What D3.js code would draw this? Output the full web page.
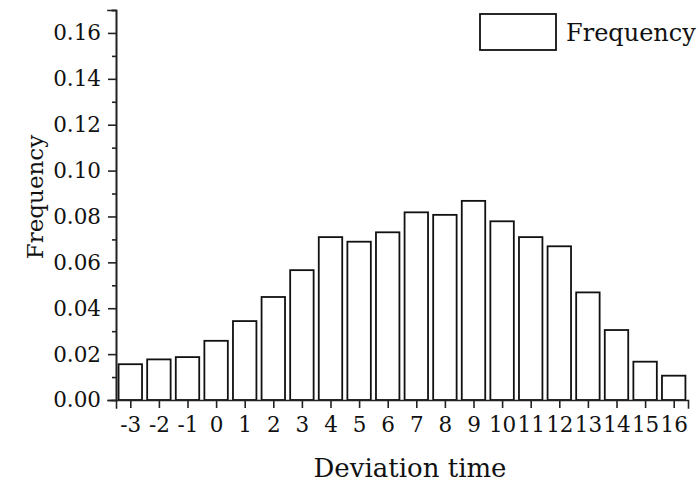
<!DOCTYPE html>
<html>
<head>
<meta charset="utf-8">
<script src="https://cdn.jsdelivr.net/npm/d3@7"></script>
<style>
    body { margin: 0; background: #fff; }
    .axis path, .axis line { stroke: #222; stroke-width: 1.6; }
    .axis text { font-family: "DejaVu Serif", serif; font-size: 21.5px; fill: #111; }
    .bar { fill: #fff; stroke: #111; stroke-width: 1.8; }
    .title { font-family: "DejaVu Serif", serif; fill: #111; }
</style>
</head>
<body>
<div id="chart"></div>
<script>

// deviation time categories
const deviationTimes = [-3, -2, -1, 0, 1, 2, 3, 4, 5, 6, 7, 8, 9, 10, 11, 12, 13, 14, 15, 16];

// frequency per category
const frequencies = [0.0156, 0.0177, 0.0187, 0.0258, 0.0344, 0.0449, 0.0566, 0.0710, 0.0690, 0.0731,
                     0.0818, 0.0807, 0.0868, 0.0779, 0.0710, 0.0670, 0.0469, 0.0305, 0.0167, 0.0106];

const yMajorTicks = [0, 0.02, 0.04, 0.06, 0.08, 0.10, 0.12, 0.14, 0.16];
const yMinorTicks = [0.01, 0.03, 0.05, 0.07, 0.09, 0.11, 0.13, 0.15, 0.17];

class FreqVis {

    constructor(_parentElement, _categories, _values) {
        this.parentElement = _parentElement;
        this.categories = _categories;
        this.values = _values;
        this.initVis();
    }

    initVis() {
        let vis = this;

        vis.margin = { top: 10, right: 12, bottom: 83, left: 116 };
        vis.width = 700 - vis.margin.left - vis.margin.right;
        vis.height = 483 - vis.margin.top - vis.margin.bottom;

        vis.svg = d3.select("#" + vis.parentElement).append("svg")
            .attr("width", 700)
            .attr("height", 483)
            .append("g")
            .attr("transform", "translate(" + vis.margin.left + "," + vis.margin.top + ")");

        vis.x = d3.scaleLinear()
            .domain([-3.5, 16.5])
            .range([0, vis.width]);

        vis.y = d3.scaleLinear()
            .domain([0, 0.17])
            .range([vis.height, 0]);

        // plain hyphen for negatives, like the original
        vis.xAxis = d3.axisBottom(vis.x)
            .tickValues(vis.categories)
            .tickFormat(function(d) { return String(d); })
            .tickSizeOuter(0)
            .tickSize(8)
            .tickPadding(9);

        vis.yAxis = d3.axisLeft(vis.y)
            .tickValues(yMajorTicks)
            .tickFormat(d3.format(".2f"))
            .tickSizeOuter(0)
            .tickSize(8)
            .tickPadding(7);

        vis.yMinor = d3.axisLeft(vis.y)
            .tickValues(yMinorTicks)
            .tickFormat("")
            .tickSizeOuter(0)
            .tickSize(4);

        vis.wrangleData();
    }

    wrangleData() {
        let vis = this;

        vis.displayData = vis.categories.map(function(c, i) {
            return { key: c, value: vis.values[i] };
        });

        vis.updateVis();
    }

    updateVis() {
        let vis = this;
        let step = vis.x(1) - vis.x(0);
        let barW = step * 0.82;

        vis.svg.selectAll(".bar")
            .data(vis.displayData)
            .enter().append("rect")
            .attr("class", "bar")
            .attr("x", function(d) { return vis.x(d.key) - barW / 2; })
            .attr("y", function(d) { return vis.y(d.value); })
            .attr("width", barW)
            .attr("height", function(d) { return vis.height - vis.y(d.value); });

        vis.svg.append("g")
            .attr("class", "x-axis axis")
            .attr("transform", "translate(0," + vis.height + ")")
            .call(vis.xAxis);

        vis.svg.append("g")
            .attr("class", "y-axis axis")
            .call(vis.yMinor);

        vis.svg.append("g")
            .attr("class", "y-axis axis")
            .call(vis.yAxis);

        vis.svg.selectAll(".axis .domain").attr("stroke-linecap", "square");

        // axis titles
        vis.svg.append("text")
            .attr("class", "title")
            .attr("x", vis.width / 2 + 8)
            .attr("y", vis.height + 77)
            .attr("text-anchor", "middle")
            .style("font-size", "26px")
            .text("Deviation time");

        vis.svg.append("text")
            .attr("class", "title")
            .attr("transform", "translate(" + (43 - vis.margin.left) + "," + (197 - vis.margin.top) + ") rotate(-90)")
            .attr("text-anchor", "middle")
            .style("font-size", "23px")
            .text("Frequency");

        // legend
        let legend = vis.svg.append("g")
            .attr("transform", "translate(" + (480 - vis.margin.left) + "," + (14 - vis.margin.top) + ")");

        legend.append("rect")
            .attr("class", "bar")
            .attr("width", 76)
            .attr("height", 36);

        legend.append("text")
            .attr("class", "title")
            .attr("x", 86)
            .attr("y", 27)
            .style("font-size", "24px")
            .text("Frequency");
    }
}

new FreqVis("chart", deviationTimes, frequencies);

</script>
</body>
</html>
